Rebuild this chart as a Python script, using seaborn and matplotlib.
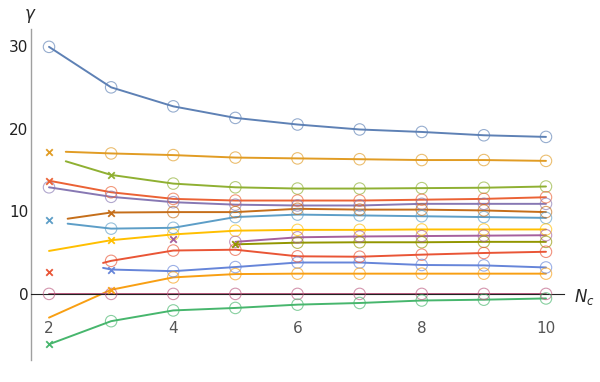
import numpy as np
import pandas as pd
import matplotlib
matplotlib.use("Agg")
import matplotlib.pyplot as plt
import seaborn as sns
from matplotlib.ticker import MultipleLocator

# Mathematica default colour cycle
colors = ['#5E81B5', '#E19C24', '#8FB032', '#EB6235', '#8778B3', '#C56E1A', '#5D9EC7', '#FFBF00',
          '#A5609D', '#929600', '#E95536', '#6685D9', '#F89F13', '#BC5B80', '#47B66D']

nc = [2, 3, 4, 5, 6, 7, 8, 9, 10]

# line data per branch (x, y)
s1_x = nc
s1_y = [29.9, 25.0, 22.7, 21.3, 20.5, 19.9, 19.6, 19.2, 19.0]
s2_x = [2.27, 3, 4, 5, 6, 7, 8, 9, 10]
s2_y = [17.2, 17.0, 16.8, 16.5, 16.4, 16.3, 16.2, 16.2, 16.1]
s3_x = [2.27, 3, 4, 5, 6, 7, 8, 9, 10]
s3_y = [16.05, 14.4, 13.35, 12.9, 12.75, 12.75, 12.8, 12.85, 13.0]
s4_x = nc
s4_y = [13.7, 12.3, 11.5, 11.3, 11.3, 11.3, 11.4, 11.5, 11.7]
s5_x = nc
s5_y = [12.9, 11.75, 11.1, 10.8, 10.7, 10.7, 10.9, 10.9, 10.9]
s6_x = [2.3, 3, 4, 5, 6, 7, 8, 9, 10]
s6_y = [9.1, 9.85, 9.9, 9.9, 10.3, 10.2, 10.2, 10.1, 9.9]
s7_x = [2.3, 3, 4, 5, 6, 7, 8, 9, 10]
s7_y = [8.5, 7.9, 8.0, 9.3, 9.6, 9.5, 9.4, 9.3, 9.2]
s8_x = nc
s8_y = [5.2, 6.5, 7.2, 7.65, 7.75, 7.75, 7.8, 7.8, 7.8]
s9_x = [5, 6, 7, 8, 9, 10]
s9_y = [6.3, 6.85, 6.95, 7.0, 7.05, 7.1]
s10_x = [5, 6, 7, 8, 9, 10]
s10_y = [6.0, 6.2, 6.25, 6.25, 6.3, 6.3]
s11_x = [2.87, 3, 4, 5, 6, 7, 8, 9, 10]
s11_y = [3.75, 4.0, 5.25, 5.35, 4.55, 4.5, 4.75, 4.95, 5.1]
s12_x = [2.87, 3, 4, 5, 6, 7, 8, 9, 10]
s12_y = [3.15, 2.95, 2.75, 3.25, 3.8, 3.8, 3.5, 3.45, 3.2]
s13_x = nc
s13_y = [-2.87, 0.5, 2.0, 2.4, 2.45, 2.45, 2.45, 2.45, 2.45]
s14_x = nc
s14_y = [0, 0, 0, 0, 0, 0, 0, 0, 0]
s15_x = nc
s15_y = [-6.1, -3.3, -2.0, -1.7, -1.3, -1.1, -0.8, -0.7, -0.55]

# circle markers (x lists per series) and cross markers (x, y)
circ_x = [nc, nc[1:], nc[2:], nc[1:], nc, nc[2:], nc[1:], nc[2:],
          [5, 6, 7, 8, 9, 10], [6, 7, 8, 9, 10], nc[1:], nc[2:], nc[2:], nc, nc[1:]]
cross_pts = {1: (2, 17.2), 2: (3, 14.4), 3: (2, 13.7), 5: (3, 9.85), 6: (2, 8.9),
             7: (3, 6.5), 8: (4, 6.6), 9: (5, 6.0), 10: (2, 2.65), 11: (3, 2.95),
             12: (3, 0.5), 14: (2, -6.1)}

xs = [s1_x, s2_x, s3_x, s4_x, s5_x, s6_x, s7_x, s8_x, s9_x, s10_x, s11_x, s12_x, s13_x, s14_x, s15_x]
ys = [s1_y, s2_y, s3_y, s4_y, s5_y, s6_y, s7_y, s8_y, s9_y, s10_y, s11_y, s12_y, s13_y, s14_y, s15_y]

rows = []
for i, (x, y) in enumerate(zip(xs, ys)):
    for a, b in zip(x, y):
        rows.append({'Nc': a, 'gamma': b, 'series': i})
df = pd.DataFrame(rows)

sns.set_style('white')
fig = plt.figure(figsize=(6, 3.82), dpi=100)
ax = fig.add_axes([31 / 600, 1 - 360 / 382, 533 / 600, 330.5 / 382])

sns.lineplot(data=df, x='Nc', y='gamma', hue='series', palette=colors, estimator=None,
             sort=False, linewidth=1.4, legend=False, ax=ax, zorder=2)

for i in range(15):
    cx = circ_x[i]
    cy = [ys[i][xs[i].index(v)] for v in cx]
    ax.scatter(cx, cy, s=68, facecolors='none', edgecolors=colors[i], linewidths=0.8,
               alpha=0.65, zorder=3)
    if i in cross_pts:
        px, py = cross_pts[i]
        ax.scatter([px], [py], s=22, marker='x', color=colors[i], linewidths=1.3, zorder=4)

ax.set_xlim(1.71, 10.29)
ax.set_ylim(-8, 32)
ax.set_xlabel('')
ax.set_ylabel('')

for s in ['top', 'right']:
    ax.spines[s].set_visible(False)
ax.spines['bottom'].set_position(('data', 0))
ax.spines['bottom'].set_color('#222222')
ax.spines['left'].set_color('#a0a0a0')
ax.spines['left'].set_linewidth(1.0)

ax.xaxis.set_major_locator(MultipleLocator(2))
ax.xaxis.set_minor_locator(MultipleLocator(0.5))
ax.yaxis.set_major_locator(MultipleLocator(10))
ax.yaxis.set_minor_locator(MultipleLocator(2))
ax.tick_params(axis='x', which='major', direction='inout', length=5, width=0.8,
               color='#333333', pad=17, labelsize=11, labelcolor='#555555')
ax.tick_params(axis='x', which='minor', direction='in', length=2.5, width=0.6, color='#333333')
ax.tick_params(axis='y', which='major', direction='in', length=4, width=0.8,
               color='#a0a0a0', pad=2, labelsize=11, labelcolor='#222222')
ax.tick_params(axis='y', which='minor', direction='in', length=2, width=0.6, color='#a0a0a0')

fig.text(30 / 600, 1 - 16 / 382, r'$\gamma$', fontsize=12, ha='center', va='center')
fig.text(584 / 600, 1 - 297 / 382, r'$N_c$', fontsize=12, ha='center', va='center')

fig.savefig('out.png', dpi=100)
